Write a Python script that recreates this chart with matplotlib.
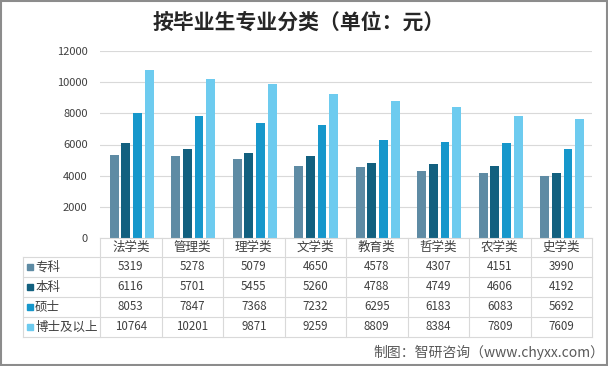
import numpy as np
import matplotlib.pyplot as plt
from matplotlib.patches import Rectangle

plt.rcParams['font.family'] = ['Noto Sans CJK SC', 'DejaVu Sans']

# Data
categories = ["法学类", "管理类", "理学类", "文学类", "教育类", "哲学类", "农学类", "史学类"]
series_names = ["专科", "本科", "硕士", "博士及以上"]
zhuanke = [5319, 5278, 5079, 4650, 4578, 4307, 4151, 3990]
benke = [6116, 5701, 5455, 5260, 4788, 4749, 4606, 4192]
shuoshi = [8053, 7847, 7368, 7232, 6295, 6183, 6083, 5692]
boshi = [10764, 10201, 9871, 9259, 8809, 8384, 7809, 7609]
series = [zhuanke, benke, shuoshi, boshi]
colors = ["#5E8BA4", "#12607F", "#1697CB", "#6DCBEF"]

W, H = 608, 366
fig = plt.figure(figsize=(W / 100, H / 100), dpi=100)

# pixel layout
x0, x1 = 100, 592
y_top, y_base = 51, 238
ax = fig.add_axes([x0 / W, 1 - y_base / H, (x1 - x0) / W, (y_base - y_top) / H])

x = np.arange(len(categories))
bw, step = 0.142, 0.19
for i, (vals, c) in enumerate(zip(series, colors)):
    ax.bar(x + (i - 1.5) * step + 0.015, vals, width=bw, color=c, zorder=3)

ax.set_xlim(-0.5, len(categories) - 0.5)
ax.set_ylim(0, 12000)
ax.set_yticks(range(0, 12001, 2000))
ax.yaxis.grid(True, color="#D9D9D9", linewidth=0.8, zorder=0)
ax.set_xticks([])
for s in ax.spines.values():
    s.set_visible(False)
ax.tick_params(axis="y", length=0, labelsize=8, pad=9, labelcolor="#404040")

# overlay in pixel coords for table, title and source
ov = fig.add_axes([0, 0, 1, 1], facecolor="none")
ov.set_xlim(0, W)
ov.set_ylim(H, 0)
ov.axis("off")

grid_c = "#D9D9D9"
col_w = (x1 - x0) / len(categories)
row_lines = [257, 277, 297, 317, 337]
t_left = 23
# horizontal lines
ov.plot([x0, x1], [y_base, y_base], color=grid_c, lw=0.8)
for yy in row_lines:
    ov.plot([t_left, x1], [yy, yy], color=grid_c, lw=0.8)
# vertical lines
for k in range(len(categories) + 1):
    xx = x0 + k * col_w
    ov.plot([xx, xx], [y_base, row_lines[-1]], color=grid_c, lw=0.8)
ov.plot([t_left, t_left], [row_lines[0], row_lines[-1]], color=grid_c, lw=0.8)

# header
for k, cat in enumerate(categories):
    ov.text(x0 + (k + 0.5) * col_w, (y_base + row_lines[0]) / 2, cat,
            ha="center", va="center", fontsize=9, color="#404040")
# rows
for r, (name, vals, c) in enumerate(zip(series_names, series, colors)):
    yc = (row_lines[r] + row_lines[r + 1]) / 2
    ov.add_patch(Rectangle((27, yc - 3), 6, 6, color=c))
    ov.text(35, yc, name, ha="left", va="center", fontsize=9, color="#404040")
    for k, v in enumerate(vals):
        ov.text(x0 + (k + 0.5) * col_w, yc, str(v), ha="center", va="center",
                fontsize=8.3, color="#404040")

# title and source
ov.text(299, 22, "按毕业生专业分类（单位：元）", ha="center", va="center",
        fontsize=15, fontweight="bold", color="#262626")
ov.text(604, 352, "制图：智研咨询（www.chyxx.com）", ha="right", va="center",
        fontsize=10, color="#595959")

# outer frame
ov.add_patch(Rectangle((1, 1), W - 2, H - 2, fill=False, edgecolor="#8C8C8C", lw=1.5))

fig.savefig("out.png", dpi=100)
